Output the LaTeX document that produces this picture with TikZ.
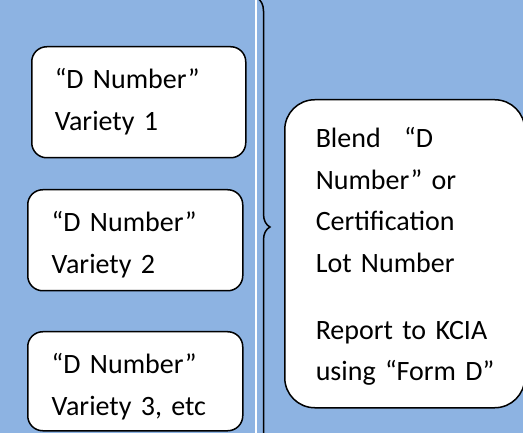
\documentclass[tikz,border=0pt]{standalone}
\usepackage{fontspec}
\setmainfont{Carlito}
\usetikzlibrary{decorations.pathreplacing}
\definecolor{paneblue}{HTML}{8DB3E2}

\begin{document}
\begin{tikzpicture}[x=1pt, y=-1pt,
    box/.style={draw, line width=1.5pt, fill=white, rounded corners=15pt, anchor=north west,
        inner ysep=0pt, align=left, font=\fontsize{28}{41.5}\selectfont, text height=42pt},
    ]
    \coordinate (P1) at (0, 0);
    \coordinate (P2) at (523, 433);
    \coordinate (S1) at (256, 0);
    \coordinate (S2) at (256, 433);
    \coordinate (K1) at (257, -2);
    \coordinate (K2) at (257, 456);

    \fill[paneblue] (P1) rectangle (P2); % background
    \useasboundingbox (P1) rectangle (P2);
    \draw[white, line width=2.2pt] (S1) -- (S2); % split line

    \node[box, inner xsep=23pt, text width=168pt, text depth=69pt] (var1) at (31, 46) {“D~Number”\\Variety~1};
    \node[box, inner xsep=24pt, text width=167pt, text depth=59pt] (var2) at (27, 189) {“D~Number”\\Variety~2};
    \node[box, inner xsep=24pt, text width=167pt, text depth=57pt] (var3) at (27, 331) {“D~Number”\\Variety~3,~etc};

    \node[box, rounded corners=30pt, inner xsep=31pt, text width=178pt, text height=48pt, text depth=260pt] (blend) at (284, 99)
        {Blend\ \ \,“D\\Number”~or\\Certification\\Lot~Number\\[25.5pt]Report~to~KCIA\\using~“Form~D”};

    \draw[line width=1.5pt, decorate, decoration={brace, amplitude=13pt}] (K1) -- (K2); % brace
\end{tikzpicture}
\end{document}
